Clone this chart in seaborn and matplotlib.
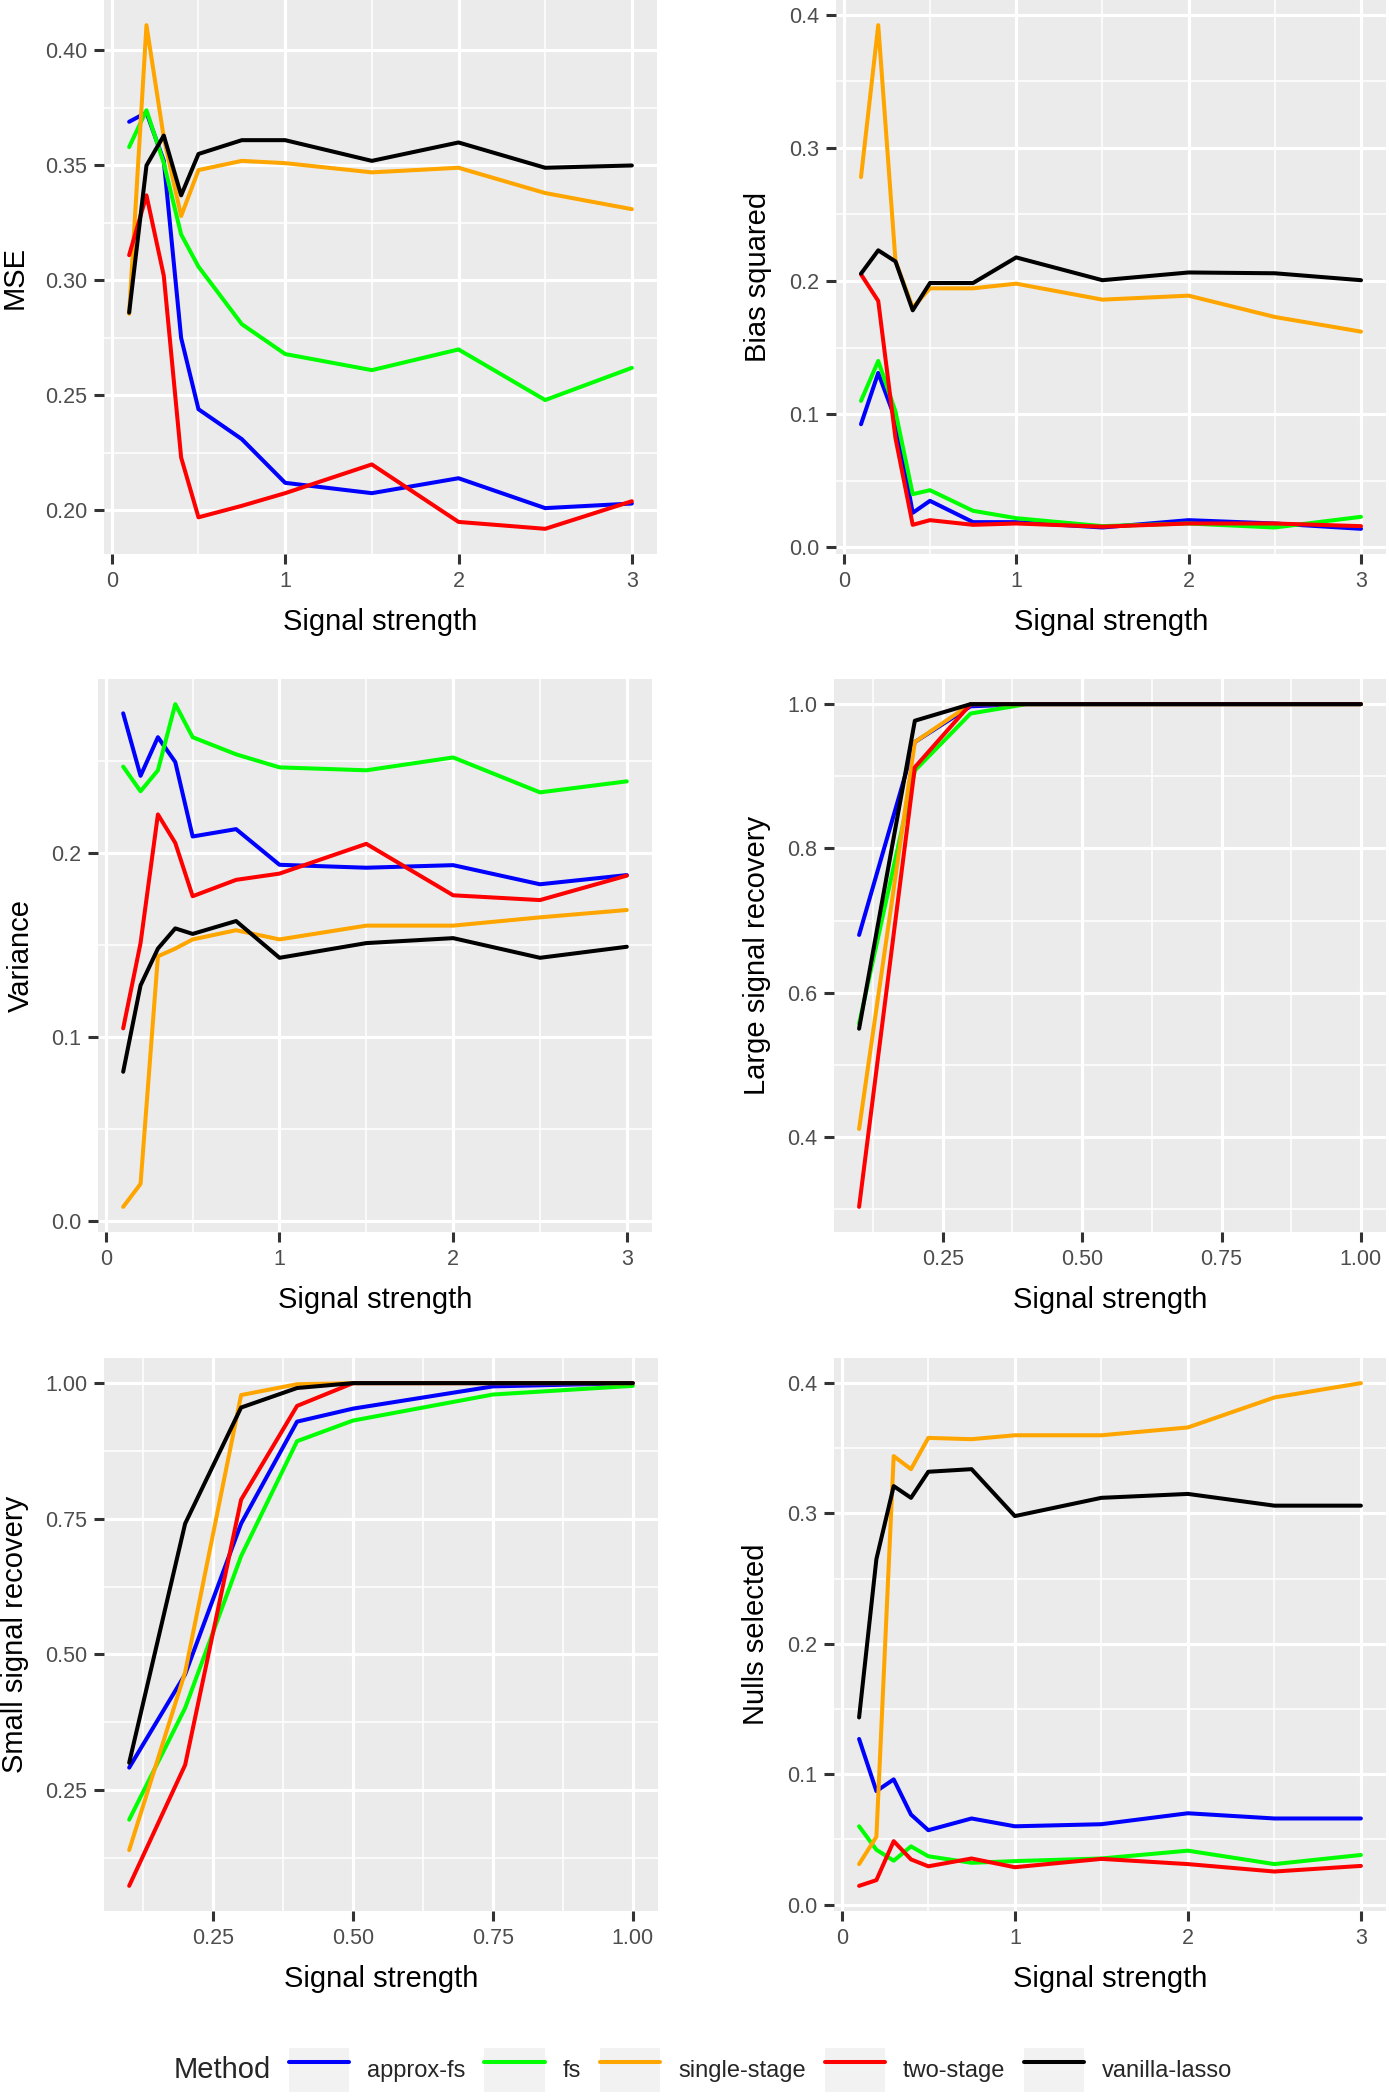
import matplotlib
matplotlib.use('Agg')
import matplotlib.pyplot as plt
import seaborn as sns
import pandas as pd
from matplotlib.lines import Line2D
from matplotlib.patches import Rectangle
from matplotlib.legend_handler import HandlerLine2D
from matplotlib.ticker import FixedLocator, FixedFormatter

# signal strength grids
signal = [0.1, 0.2, 0.3, 0.4, 0.5, 0.75, 1, 1.5, 2, 2.5, 3]
signal_rec = [0.1, 0.2, 0.3, 0.4, 0.5, 0.75, 1.0]

methods = ['approx-fs', 'fs', 'single-stage', 'two-stage', 'vanilla-lasso']
colors = ['#0000FF', '#00FF00', '#FFA500', '#FF0000', '#000000']

mse = {
    'approx-fs':     [0.369, 0.373, 0.352, 0.275, 0.244, 0.231, 0.212, 0.2075, 0.214, 0.201, 0.203],
    'fs':            [0.358, 0.374, 0.351, 0.320, 0.306, 0.281, 0.268, 0.261, 0.270, 0.248, 0.262],
    'single-stage':  [0.2855, 0.411, 0.362, 0.328, 0.348, 0.352, 0.351, 0.347, 0.349, 0.338, 0.331],
    'two-stage':     [0.311, 0.337, 0.302, 0.223, 0.197, 0.202, 0.2075, 0.220, 0.195, 0.192, 0.204],
    'vanilla-lasso': [0.286, 0.350, 0.363, 0.337, 0.355, 0.361, 0.361, 0.352, 0.360, 0.349, 0.350],
}
bias = {
    'approx-fs':     [0.0925, 0.131, 0.096, 0.026, 0.035, 0.019, 0.019, 0.015, 0.0205, 0.018, 0.014],
    'fs':            [0.110, 0.140, 0.102, 0.040, 0.043, 0.0275, 0.022, 0.016, 0.018, 0.015, 0.023],
    'single-stage':  [0.278, 0.392, 0.215, 0.180, 0.1945, 0.1945, 0.198, 0.186, 0.189, 0.173, 0.162],
    'two-stage':     [0.205, 0.185, 0.082, 0.017, 0.0205, 0.017, 0.018, 0.0156, 0.018, 0.018, 0.016],
    'vanilla-lasso': [0.2055, 0.223, 0.2147, 0.178, 0.1985, 0.1985, 0.2177, 0.2006, 0.2064, 0.2058, 0.2006],
}
variance = {
    'approx-fs':     [0.276, 0.242, 0.263, 0.2495, 0.209, 0.213, 0.1936, 0.192, 0.1934, 0.183, 0.188],
    'fs':            [0.247, 0.2336, 0.245, 0.281, 0.263, 0.2537, 0.2466, 0.245, 0.252, 0.233, 0.239],
    'single-stage':  [0.0075, 0.020, 0.1438, 0.148, 0.153, 0.158, 0.153, 0.1605, 0.1605, 0.165, 0.169],
    'two-stage':     [0.1046, 0.151, 0.221, 0.2055, 0.1765, 0.1854, 0.1888, 0.205, 0.177, 0.1744, 0.1877],
    'vanilla-lasso': [0.081, 0.128, 0.148, 0.159, 0.156, 0.163, 0.143, 0.151, 0.1537, 0.143, 0.149],
}
large_rec = {
    'approx-fs':     [0.680, 0.9475, 0.997, 1.0, 1.0, 1.0, 1.0],
    'fs':            [0.557, 0.908, 0.987, 1.0, 1.0, 1.0, 1.0],
    'single-stage':  [0.411, 0.9475, 1.0, 1.0, 1.0, 1.0, 1.0],
    'two-stage':     [0.303, 0.9125, 1.0, 1.0, 1.0, 1.0, 1.0],
    'vanilla-lasso': [0.550, 0.977, 1.0, 1.0, 1.0, 1.0, 1.0],
}
small_rec = {
    'approx-fs':     [0.291, 0.463, 0.741, 0.929, 0.953, 0.994, 1.0],
    'fs':            [0.195, 0.401, 0.681, 0.893, 0.931, 0.979, 0.995],
    'single-stage':  [0.139, 0.467, 0.978, 0.998, 1.0, 1.0, 1.0],
    'two-stage':     [0.073, 0.296, 0.785, 0.958, 1.0, 1.0, 1.0],
    'vanilla-lasso': [0.300, 0.741, 0.955, 0.991, 1.0, 1.0, 1.0],
}
nulls = {
    'approx-fs':     [0.127, 0.087, 0.096, 0.069, 0.057, 0.066, 0.060, 0.0616, 0.070, 0.066, 0.066],
    'fs':            [0.060, 0.042, 0.0336, 0.0446, 0.037, 0.032, 0.0333, 0.0353, 0.0413, 0.031, 0.038],
    'single-stage':  [0.031, 0.052, 0.344, 0.334, 0.358, 0.357, 0.360, 0.360, 0.366, 0.389, 0.400],
    'two-stage':     [0.0143, 0.0187, 0.0486, 0.0346, 0.0293, 0.0353, 0.0286, 0.035, 0.031, 0.0253, 0.0296],
    'vanilla-lasso': [0.1435, 0.265, 0.321, 0.312, 0.332, 0.334, 0.298, 0.312, 0.315, 0.306, 0.306],
}

x_ticks_full = [0, 1, 2, 3]
x_ticks_rec = [0.25, 0.50, 0.75, 1.00]

sns.set_theme(style='darkgrid')
plt.rcParams['font.family'] = ['Liberation Sans', 'DejaVu Sans']
plt.rcParams['axes.facecolor'] = '#EBEBEB'

W, H = 1389, 2100
fig = plt.figure(figsize=(W / 100, H / 100), dpi=100)
palette = dict(zip(methods, colors))


def long_df(values, xs):
    rows = []
    for m in methods:
        for x, v in zip(xs, values[m]):
            rows.append((m, x, v))
    return pd.DataFrame(rows, columns=['Method', 'signal', 'value'])


def minors(ticks):
    step = ticks[1] - ticks[0]
    return [t - step / 2 for t in ticks] + [ticks[-1] + step / 2]


def panel(rect, values, xs, xticks, xfmt, yticks, yfmt, ylabel):
    l, t, r, b = rect
    ax = fig.add_axes([l / W, 1 - b / H, (r - l) / W, (b - t) / H])
    df = long_df(values, xs)
    sns.lineplot(data=df, x='signal', y='value', hue='Method', hue_order=methods,
                 palette=palette, linewidth=2.9, legend=False, errorbar=None,
                 estimator=None, ax=ax)
    # ggplot style 5% expansion
    x0, x1 = min(xs), max(xs)
    ax.set_xlim(x0 - 0.05 * (x1 - x0), x1 + 0.05 * (x1 - x0))
    y0, y1 = df['value'].min(), df['value'].max()
    ax.set_ylim(y0 - 0.05 * (y1 - y0), y1 + 0.05 * (y1 - y0))
    ax.xaxis.set_major_locator(FixedLocator(xticks))
    ax.xaxis.set_major_formatter(FixedFormatter([xfmt.format(v) for v in xticks]))
    ax.yaxis.set_major_locator(FixedLocator(yticks))
    ax.yaxis.set_major_formatter(FixedFormatter([yfmt.format(v) for v in yticks]))
    ax.xaxis.set_minor_locator(FixedLocator(minors(xticks)))
    ax.yaxis.set_minor_locator(FixedLocator(minors(yticks)))
    ax.grid(which='major', color='white', linewidth=2.3)
    ax.grid(which='minor', color='white', linewidth=1.1)
    ax.tick_params(which='major', length=7, width=2.2, color='#333333', pad=5,
                   labelsize=15.5, labelcolor='#4D4D4D', bottom=True, left=True)
    ax.tick_params(which='minor', length=0)
    for s in ax.spines.values():
        s.set_visible(False)
    ax.set_xlabel('Signal strength', fontsize=21, color='black', labelpad=11.5)
    ax.set_ylabel(ylabel, fontsize=21, color='black', labelpad=12)
    return ax


panel((104, 0, 657, 554), mse, signal, x_ticks_full, '{:g}',
      [0.20, 0.25, 0.30, 0.35, 0.40], '{:.2f}', 'MSE')
panel((836, 0, 1386, 554), bias, signal, x_ticks_full, '{:g}',
      [0.0, 0.1, 0.2, 0.3, 0.4], '{:.1f}', 'Bias squared')
panel((98, 679, 652, 1232), variance, signal, x_ticks_full, '{:g}',
      [0.0, 0.1, 0.2], '{:.1f}', 'Variance')
panel((834, 679, 1386, 1232), large_rec, signal_rec, x_ticks_rec, '{:.2f}',
      [0.4, 0.6, 0.8, 1.0], '{:.1f}', 'Large signal recovery')
panel((104, 1358, 658, 1911), small_rec, signal_rec, x_ticks_rec, '{:.2f}',
      [0.25, 0.50, 0.75, 1.00], '{:.2f}', 'Small signal recovery')
panel((834, 1358, 1386, 1911), nulls, signal, x_ticks_full, '{:g}',
      [0.0, 0.1, 0.2, 0.3, 0.4], '{:.1f}', 'Nulls selected')


class KeyBox(HandlerLine2D):
    def create_artists(self, legend, orig_handle, xdescent, ydescent,
                       width, height, fontsize, trans):
        bg = Rectangle((-xdescent, -ydescent), width, height,
                       facecolor='#F2F2F2', edgecolor='none', transform=trans)
        arts = super().create_artists(legend, orig_handle, xdescent, ydescent,
                                      width, height, fontsize, trans)
        return [bg] + arts


handles = [Line2D([], [], color=c, linewidth=2.9) for c in colors]
leg_y = 1 - 2070 / H
fig.legend(handles, methods, loc='center left', bbox_to_anchor=(289 / W, leg_y),
           ncol=5, frameon=False, fontsize=17, borderpad=0, borderaxespad=0,
           handlelength=2.55, handleheight=2.55, handletextpad=0.76,
           columnspacing=0.8, handler_map={Line2D: KeyBox()})
fig.text(271 / W, leg_y, 'Method', ha='right', va='center', fontsize=21)

fig.savefig('out.png', dpi=100)
